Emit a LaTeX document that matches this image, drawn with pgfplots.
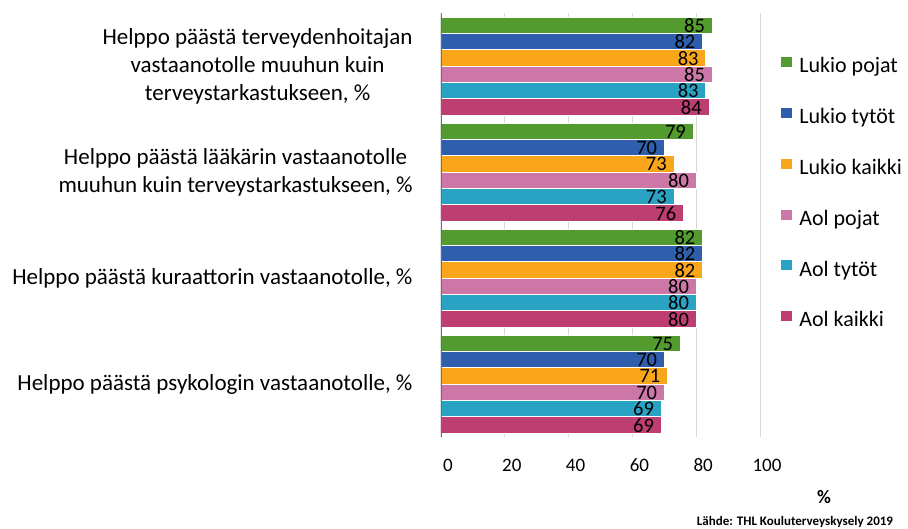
\documentclass[border=0pt]{standalone}
\usepackage{fontspec}
\setmainfont{Carlito}
\usepackage{pgfplots}
\pgfplotsset{compat=1.18}
\definecolor{cgreen}{RGB}{83,155,46}
\definecolor{cblue}{RGB}{47,95,172}
\definecolor{corange}{RGB}{249,166,26}
\definecolor{cpink}{RGB}{204,119,168}
\definecolor{ccyan}{RGB}{41,162,196}
\definecolor{ccrimson}{RGB}{189,62,112}
\definecolor{gridgray}{RGB}{217,217,217}
\definecolor{axisgray}{RGB}{110,110,110}
\newcommand\lf{\fontsize{19}{28}\selectfont}
\newcommand\vf{\fontsize{20.5}{24}\selectfont}
\newcommand\cf{\fontsize{23}{28}\selectfont}
\newcommand\gf{\fontsize{22}{26}\selectfont}
\begin{document}
\begin{tikzpicture}[x=1pt,y=1pt]
\useasboundingbox (0,0) rectangle (908,528);
\begin{axis}[
  at={(441pt,91pt)}, anchor=south west,
  scale only axis, width=319pt, height=424pt,
  xmin=0, xmax=100, ymin=-0.5, ymax=3.5, y dir=reverse,
  xbar, bar width=16.33pt,
  xtick={0,20,40,60,80,100}, xticklabels={0,20,40,60,80,100},
  ytick={0,1,2,3},
  yticklabels={{Helppo päästä terveydenhoitajan\\vastaanotolle muuhun kuin\\terveystarkastukseen, \%},
               {Helppo päästä lääkärin vastaanotolle\\muuhun kuin terveystarkastukseen, \%},
               {Helppo päästä kuraattorin vastaanotolle, \%},
               {Helppo päästä psykologin vastaanotolle, \%}},
  xmajorgrids, major grid style={color=gridgray, line width=0.9pt},
  axis line style={draw=none},
  tick style={draw=none},
  /pgf/number format/assume math mode=true,
  yticklabel style={align=center, anchor=east, inner sep=0pt, xshift=-24pt, font=\cf},
  xticklabel style={anchor=center, inner sep=0pt, yshift=-28pt, xshift=7pt, font=\lf},
  nodes near coords={\makebox[0pt][r]{\pgfmathprintnumber{\pgfplotspointmeta}}},
  nodes near coords style={anchor=west, inner sep=0pt, xshift=-8pt, yshift=-0.5pt, font=\vf, text=black},
  legend style={at={(1.0627,0.8986)}, anchor=north west, draw=none, fill=none,
    inner sep=0pt, row sep=30pt, column sep=7pt, font=\gf,
    nodes={inner sep=0pt, text height=14pt, text depth=4pt}},
  legend cell align=left,
  legend image code/.code={\fill[#1] (0pt,0.5pt) rectangle (11.5pt,11.5pt);},
]
\addplot[fill=cgreen, draw=white, line width=0.6pt, bar shift=40.83pt] coordinates {(85,0) (79,1) (82,2) (75,3)};
\addplot[fill=cblue, draw=white, line width=0.6pt, bar shift=24.5pt] coordinates {(82,0) (70,1) (82,2) (70,3)};
\addplot[fill=corange, draw=white, line width=0.6pt, bar shift=8.17pt] coordinates {(83,0) (73,1) (82,2) (71,3)};
\addplot[fill=cpink, draw=white, line width=0.6pt, bar shift=-8.17pt] coordinates {(85,0) (80,1) (80,2) (70,3)};
\addplot[fill=ccyan, draw=white, line width=0.6pt, bar shift=-24.5pt] coordinates {(83,0) (73,1) (80,2) (69,3)};
\addplot[fill=ccrimson, draw=white, line width=0.6pt, bar shift=-40.83pt] coordinates {(84,0) (76,1) (80,2) (69,3)};
\legend{Lukio pojat, Lukio tytöt, Lukio kaikki, Aol pojat, Aol tytöt, Aol kaikki}
\draw[axisgray, line width=1.2pt] (axis cs:0,-0.5) -- (axis cs:0,3.5);
\end{axis}
\node[font=\bfseries\fontsize{19}{22}\selectfont] at (824,31) {\%};
\node[font=\bfseries\fontsize{13}{15}\selectfont] at (795,6) {Lähde: THL Kouluterveyskysely 2019};
\end{tikzpicture}
\end{document}
